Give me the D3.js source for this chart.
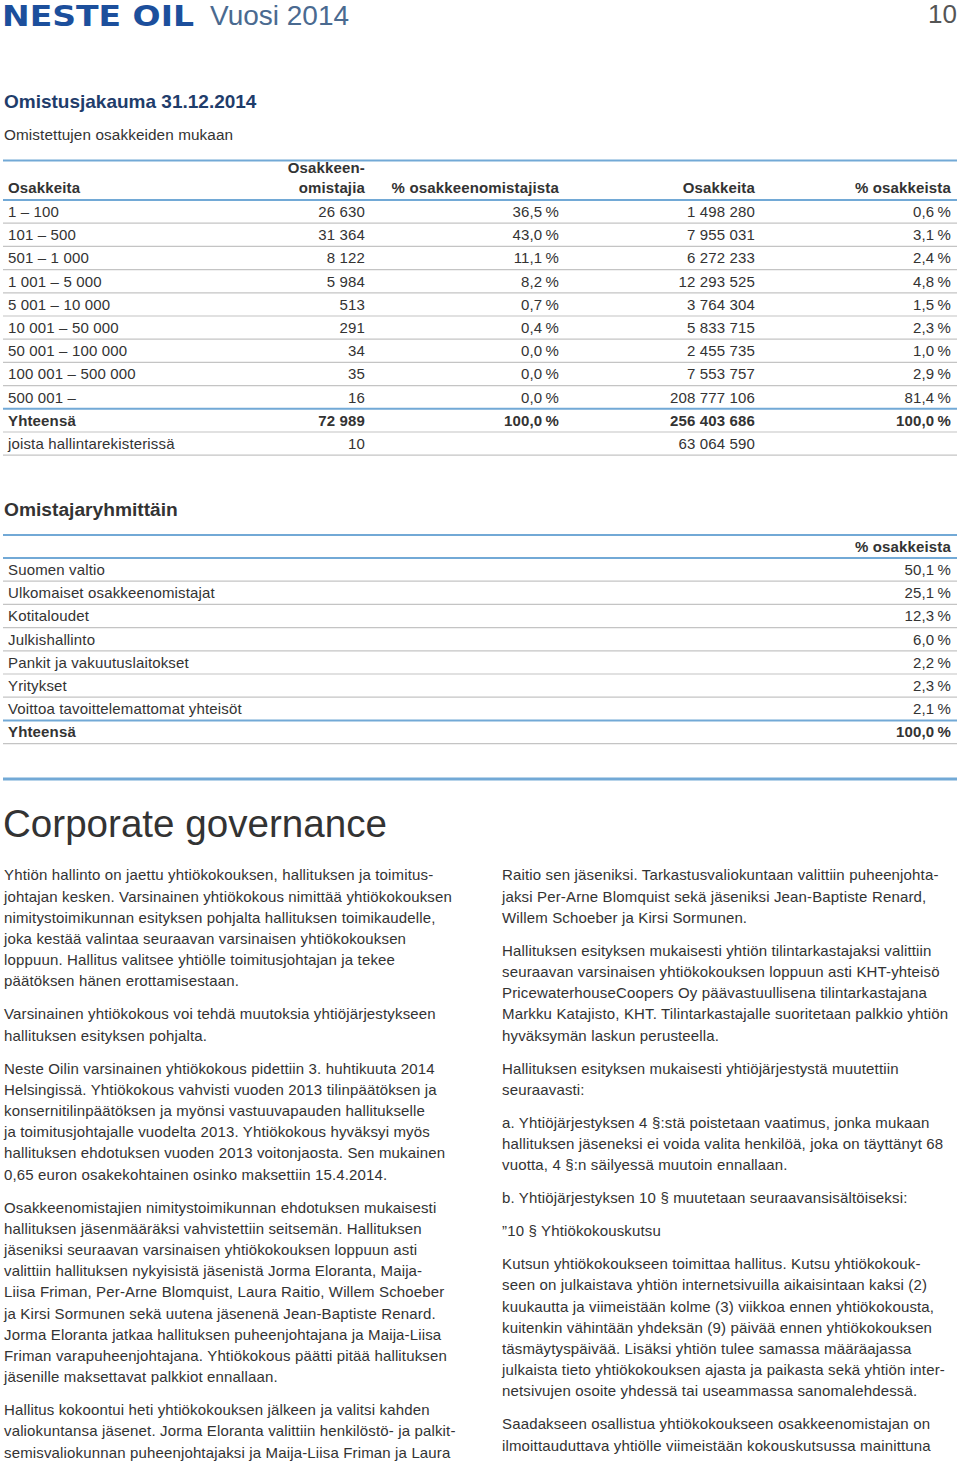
<!DOCTYPE html>
<html lang="fi">
<head>
<meta charset="UTF-8" />
<title>Omistusjakauma 31.12.2014</title>
<script src="https://cdn.jsdelivr.net/npm/d3@7"></script>
<style>
  body { margin: 0; background: #fff; }
  svg text { font-family: "Liberation Sans", Arial, sans-serif; fill: #333; }
</style>
</head>
<body>
<div id="page"></div>
<script>
// --- data: ownership by size of holding ---
const sizeRanges = ["1 – 100", "101 – 500", "501 – 1 000", "1 001 – 5 000", "5 001 – 10 000",
  "10 001 – 50 000", "50 001 – 100 000", "100 001 – 500 000", "500 001 –"];
const ownerCounts = [26630, 31364, 8122, 5984, 513, 291, 34, 35, 16];
const ownerPct = [36.5, 43.0, 11.1, 8.2, 0.7, 0.4, 0.0, 0.0, 0.0];
const shareCounts = [1498280, 7955031, 6272233, 12293525, 3764304, 5833715, 2455735, 7553757, 208777106];
const sharePct = [0.6, 3.1, 2.4, 4.8, 1.5, 2.3, 1.0, 2.9, 81.4];
const totals = {owners: 72989, ownerPct: 100.0, shares: 256403686, sharePct: 100.0};
const nomineeOwners = 10, nomineeShares = 63064590;

// --- data: ownership by owner group ---
const ownerGroups = ["Suomen valtio", "Ulkomaiset osakkeenomistajat", "Kotitaloudet", "Julkishallinto",
  "Pankit ja vakuutuslaitokset", "Yritykset", "Voittoa tavoittelemattomat yhteisöt"];
const groupPct = [50.1, 25.1, 12.3, 6.0, 2.2, 2.3, 2.1];
const groupTotal = 100.0;

// --- body text, one array of lines per paragraph ---
const leftParas = [
  ["Yhtiön hallinto on jaettu yhtiökokouksen, hallituksen ja toimitus-",
   "johtajan kesken. Varsinainen yhtiökokous nimittää yhtiökokouksen",
   "nimitystoimikunnan esityksen pohjalta hallituksen toimikaudelle,",
   "joka kestää valintaa seuraavan varsinaisen yhtiökokouksen",
   "loppuun. Hallitus valitsee yhtiölle toimitusjohtajan ja tekee",
   "päätöksen hänen erottamisestaan."],
  ["Varsinainen yhtiökokous voi tehdä muutoksia yhtiöjärjestykseen",
   "hallituksen esityksen pohjalta."],
  ["Neste Oilin varsinainen yhtiökokous pidettiin 3. huhtikuuta 2014",
   "Helsingissä. Yhtiökokous vahvisti vuoden 2013 tilinpäätöksen ja",
   "konsernitilinpäätöksen ja myönsi vastuuvapauden hallitukselle",
   "ja toimitusjohtajalle vuodelta 2013. Yhtiökokous hyväksyi myös",
   "hallituksen ehdotuksen vuoden 2013 voitonjaosta. Sen mukainen",
   "0,65 euron osakekohtainen osinko maksettiin 15.4.2014."],
  ["Osakkeenomistajien nimitystoimikunnan ehdotuksen mukaisesti",
   "hallituksen jäsenmääräksi vahvistettiin seitsemän. Hallituksen",
   "jäseniksi seuraavan varsinaisen yhtiökokouksen loppuun asti",
   "valittiin hallituksen nykyisistä jäsenistä Jorma Eloranta, Maija-",
   "Liisa Friman, Per-Arne Blomquist, Laura Raitio, Willem Schoeber",
   "ja Kirsi Sormunen sekä uutena jäsenenä Jean-Baptiste Renard.",
   "Jorma Eloranta jatkaa hallituksen puheenjohtajana ja Maija-Liisa",
   "Friman varapuheenjohtajana. Yhtiökokous päätti pitää hallituksen",
   "jäsenille maksettavat palkkiot ennallaan."],
  ["Hallitus kokoontui heti yhtiökokouksen jälkeen ja valitsi kahden",
   "valiokuntansa jäsenet. Jorma Eloranta valittiin henkilöstö- ja palkit-",
   "semisvaliokunnan puheenjohtajaksi ja Maija-Liisa Friman ja Laura"]
];
const rightParas = [
  ["Raitio sen jäseniksi. Tarkastusvaliokuntaan valittiin puheenjohta-",
   "jaksi Per-Arne Blomquist sekä jäseniksi Jean-Baptiste Renard,",
   "Willem Schoeber ja Kirsi Sormunen."],
  ["Hallituksen esityksen mukaisesti yhtiön tilintarkastajaksi valittiin",
   "seuraavan varsinaisen yhtiökokouksen loppuun asti KHT-yhteisö",
   "PricewaterhouseCoopers Oy päävastuullisena tilintarkastajana",
   "Markku Katajisto, KHT. Tilintarkastajalle suoritetaan palkkio yhtiön",
   "hyväksymän laskun perusteella."],
  ["Hallituksen esityksen mukaisesti yhtiöjärjestystä muutettiin",
   "seuraavasti:"],
  ["a. Yhtiöjärjestyksen 4 §:stä poistetaan vaatimus, jonka mukaan",
   "hallituksen jäseneksi ei voida valita henkilöä, joka on täyttänyt 68",
   "vuotta, 4 §:n säilyessä muutoin ennallaan."],
  ["b. Yhtiöjärjestyksen 10 § muutetaan seuraavansisältöiseksi:"],
  ["”10 § Yhtiökokouskutsu"],
  ["Kutsun yhtiökokoukseen toimittaa hallitus. Kutsu yhtiökokouk-",
   "seen on julkaistava yhtiön internetsivuilla aikaisintaan kaksi (2)",
   "kuukautta ja viimeistään kolme (3) viikkoa ennen yhtiökokousta,",
   "kuitenkin vähintään yhdeksän (9) päivää ennen yhtiökokouksen",
   "täsmäytyspäivää. Lisäksi yhtiön tulee samassa määräajassa",
   "julkaista tieto yhtiökokouksen ajasta ja paikasta sekä yhtiön inter-",
   "netsivujen osoite yhdessä tai useammassa sanomalehdessä."],
  ["Saadakseen osallistua yhtiökokoukseen osakkeenomistajan on",
   "ilmoittauduttava yhtiölle viimeistään kokouskutsussa mainittuna"]
];

const W = 960, H = 1465;
const BLUE = "#72a9d6", GREY = "#c4c4c4";
const FS = 15, LS = 0.15;

// finnish number formats: "26 630", "36,5 %"
const fmtInt = n => d3.format(",")(n).replace(/,/g, " ");
const fmtPct = p => d3.format(".1f")(p).replace(".", ",") + "\u2009%";

const svg = d3.select("#page").append("svg")
  .attr("width", W).attr("height", H);

// header
svg.append("text").attr("x", 2).attr("y", 26)
  .attr("textLength", 192).attr("lengthAdjust", "spacingAndGlyphs")
  .style("font-family", "DejaVu Sans").style("font-weight", "bold")
  .style("font-size", "28px").style("fill", "#1c4f9c").text("NESTE OIL");
svg.append("text").attr("x", 210).attr("y", 25)
  .style("font-size", "28px").style("fill", "#4a6a90")
  .text("Vuosi 2014");
svg.append("text").attr("x", 957).attr("y", 23).attr("text-anchor", "end")
  .style("font-size", "26px").style("fill", "#555").text("10");

svg.append("text").attr("x", 4).attr("y", 108)
  .style("font-size", "19px").style("font-weight", "bold").style("fill", "#1f3d6b")
  .text("Omistusjakauma 31.12.2014");
svg.append("text").attr("x", 4).attr("y", 140)
  .style("font-size", "15.3px").style("letter-spacing", "0.1px")
  .text("Omistettujen osakkeiden mukaan");

// table helpers
function hline(y, color, w) {
  svg.append("line").attr("x1", 3).attr("x2", 957).attr("y1", y).attr("y2", y)
    .attr("stroke", color).attr("stroke-width", w);
}
function cell(x, y, txt, anchor, bold) {
  svg.append("text").attr("x", x).attr("y", y + 5.3)
    .attr("text-anchor", anchor)
    .style("font-size", FS + "px").style("letter-spacing", LS + "px")
    .style("font-weight", bold ? "bold" : "normal")
    .text(txt);
}

// table 1
const colX = [8, 365, 559, 755, 951];
const y1 = d3.scaleLinear().domain([0, 11]).range([200, 455.2]);
hline(160.5, BLUE, 2);
cell(colX[1], 168, "Osakkeen-", "end", true);
cell(colX[0], 188, "Osakkeita", "start", true);
cell(colX[1], 188, "omistajia", "end", true);
cell(colX[2], 188, "% osakkeenomistajista", "end", true);
cell(colX[3], 188, "Osakkeita", "end", true);
cell(colX[4], 188, "% osakkeista", "end", true);

const rows1 = sizeRanges.map((r, i) => ({
  cells: [r, fmtInt(ownerCounts[i]), fmtPct(ownerPct[i]), fmtInt(shareCounts[i]), fmtPct(sharePct[i])], bold: false}));
rows1.push({cells: ["Yhteensä", fmtInt(totals.owners), fmtPct(totals.ownerPct), fmtInt(totals.shares), fmtPct(totals.sharePct)], bold: true});
rows1.push({cells: ["joista hallintarekisterissä", fmtInt(nomineeOwners), "", fmtInt(nomineeShares), ""], bold: false});

rows1.forEach((row, i) => {
  const yc = y1(i + 0.5);
  row.cells.forEach((c, j) => cell(colX[j], yc, c, j === 0 ? "start" : "end", row.bold));
  const next = rows1[i + 1];
  hline(y1(i + 1), next && next.bold ? BLUE : GREY, next && next.bold ? 2 : 1.2);
});
hline(y1(0), BLUE, 2);

// table 2
svg.append("text").attr("x", 4).attr("y", 516)
  .style("font-size", "19.2px").style("font-weight", "bold").text("Omistajaryhmittäin");
const y2 = d3.scaleLinear().domain([0, 8]).range([558, 743.6]);
hline(535, BLUE, 2);
cell(colX[4], 547, "% osakkeista", "end", true);
const rows2 = ownerGroups.map((g, i) => ({cells: [g, fmtPct(groupPct[i])], bold: false}));
rows2.push({cells: ["Yhteensä", fmtPct(groupTotal)], bold: true});
rows2.forEach((row, i) => {
  const yc = y2(i + 0.5);
  cell(colX[0], yc, row.cells[0], "start", row.bold);
  cell(colX[4], yc, row.cells[1], "end", row.bold);
  const next = rows2[i + 1];
  hline(y2(i + 1), next && next.bold ? BLUE : GREY, next && next.bold ? 2 : 1.2);
});
hline(y2(0), BLUE, 2);

// corporate governance
hline(779, BLUE, 3);
svg.append("text").attr("x", 3).attr("y", 837)
  .style("font-size", "38.6px").style("fill", "#333").text("Corporate governance");

function column(paras, x) {
  const lineH = 21.2, gap = 11.8;
  let n = 0;
  paras.forEach((p, pi) => {
    p.forEach(line => {
      svg.append("text").attr("x", x).attr("y", 875 + n * lineH + pi * gap + 5.3)
        .style("font-size", FS + "px").style("letter-spacing", LS + "px").text(line);
      n++;
    });
  });
}
column(leftParas, 4);
column(rightParas, 502);
</script>
</body>
</html>
